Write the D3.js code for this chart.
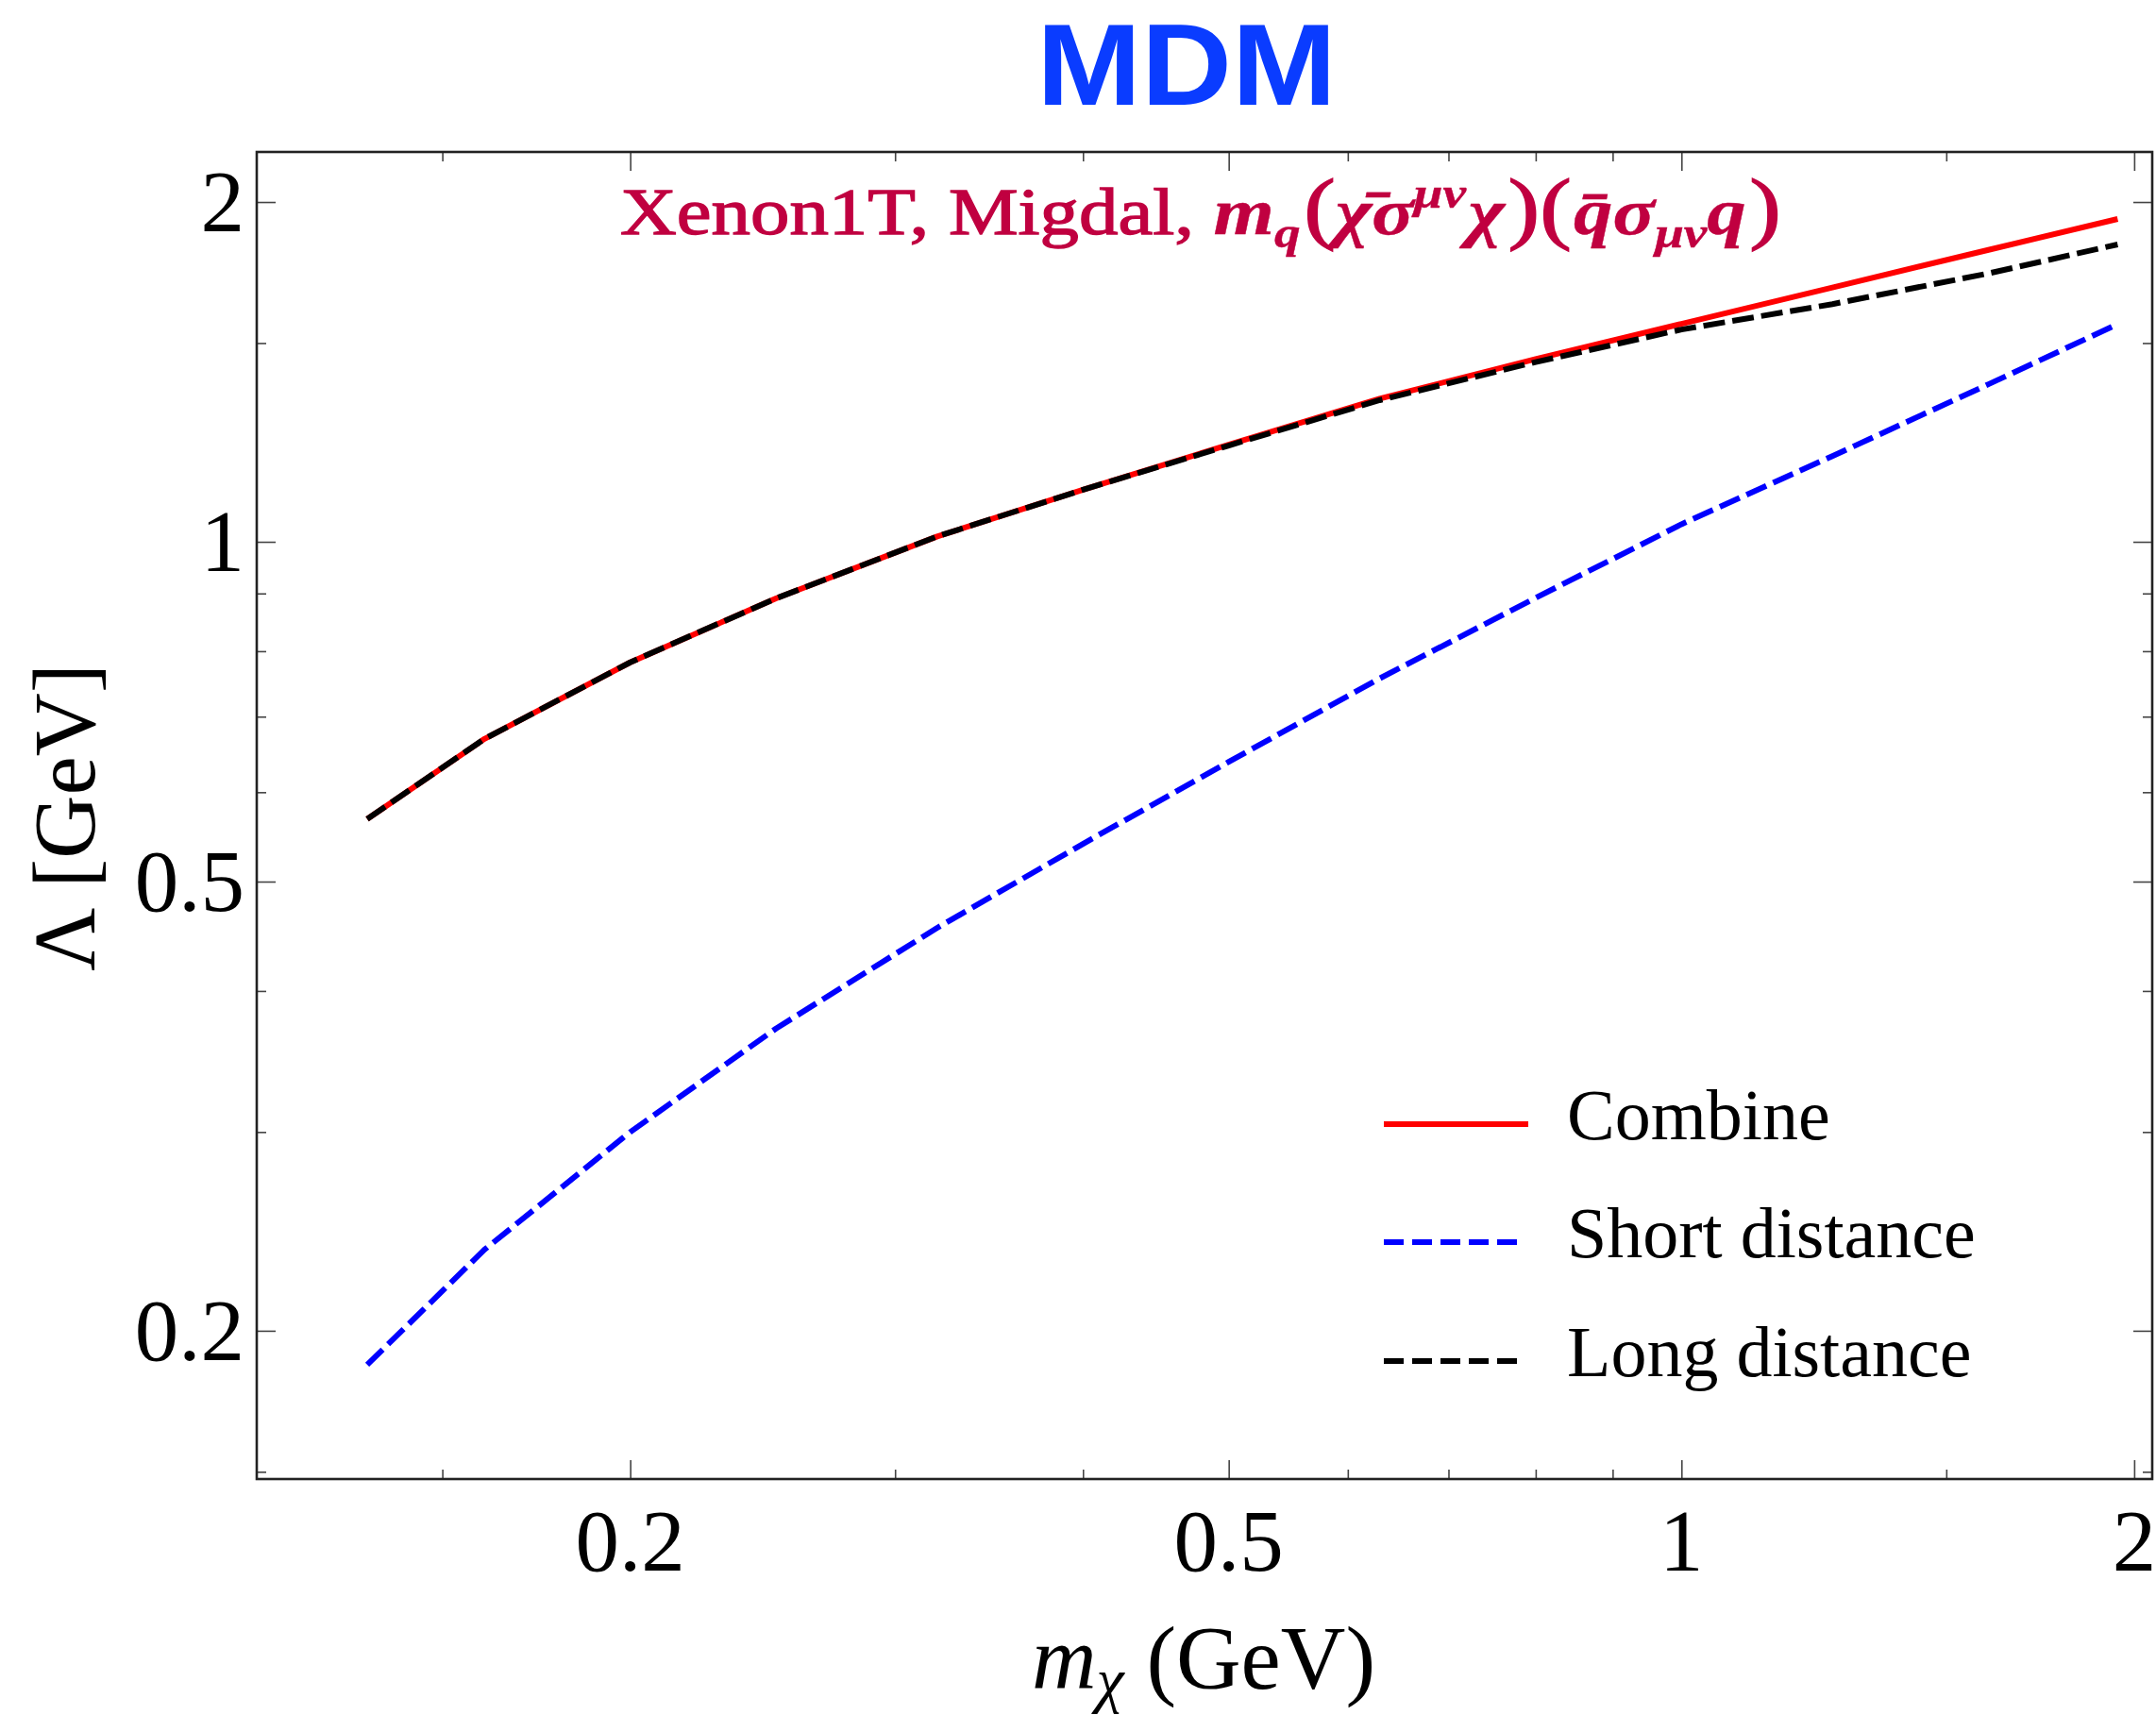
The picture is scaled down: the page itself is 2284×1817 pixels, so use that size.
<!DOCTYPE html>
<html>
<head>
<meta charset="utf-8">
<script src="https://cdn.jsdelivr.net/npm/d3@7"></script>
<style>
  html, body { margin: 0; padding: 0; background: #fff; }
  svg { display: block; }
</style>
</head>
<body>
<svg id="chart" width="2284" height="1817"></svg>
<script>
// Dark-matter mass grid (GeV) and the exclusion reach on the cutoff scale Λ (GeV)
const massGeV       = [0.1337, 0.16, 0.2, 0.25, 0.32, 0.4, 0.5, 0.63, 0.8, 1.0, 1.26, 1.6, 1.95];
const combine       = [0.568, 0.669, 0.782, 0.891, 1.011, 1.112, 1.219, 1.339, 1.452, 1.560, 1.680, 1.814, 1.932];
const shortDistance = [0.1866, 0.236, 0.300, 0.3705, 0.455, 0.540, 0.6383, 0.7568, 0.892, 1.0365, 1.191, 1.379, 1.559];
const longDistance  = [0.568, 0.669, 0.782, 0.891, 1.011, 1.112, 1.217, 1.335, 1.443, 1.542, 1.624, 1.729, 1.834];

// Axis ticks
const xMajorTicks = [0.2, 0.5, 1, 2];
const xMinorTicks = [0.15, 0.3, 0.4, 0.6, 0.7, 0.8, 0.9, 1.5];
const yMajorTicks = [0.2, 0.5, 1, 2];
const yMinorTicks = [0.15, 0.3, 0.4, 0.6, 0.7, 0.8, 0.9, 1.5];
const xTickLabels = ["0.2", "0.5", "1", "2"];
const yTickLabels = ["0.2", "0.5", "1", "2"];

const seriesNames = ["Combine", "Short distance", "Long distance"];

const svg = d3.select("#chart");
const W = 2284, H = 1817;
const plot = { left: 272, right: 2280, top: 161, bottom: 1567 };

const x = d3.scaleLog().domain([0.1129, 2.056]).range([plot.left, plot.right]);
const y = d3.scaleLog().domain([0.1478, 2.215]).range([plot.bottom, plot.top]);

const serif = "'Liberation Serif', 'Times New Roman', serif";

svg.append("rect").attr("width", W).attr("height", H).attr("fill", "#fff");

// Title
svg.append("text")
  .attr("transform", "translate(1257,111) scale(1.09,1)")
  .attr("text-anchor", "middle")
  .attr("font-family", "'Liberation Sans', Arial, sans-serif")
  .attr("font-weight", "bold")
  .attr("font-size", 122)
  .attr("fill", "#0a3cff")
  .text("MDM");

// Frame ticks on all four sides (inward)
const tickColor = "#444";
function addAxis(gen, transform, values, size) {
  const g = svg.append("g").attr("transform", transform)
    .call(gen.tickValues(values).tickSize(size).tickFormat(() => ""));
  g.select(".domain").remove();
  g.selectAll(".tick line").attr("stroke", tickColor).attr("stroke-width", 1.6);
  return g;
}
addAxis(d3.axisBottom(x), `translate(0,${plot.bottom})`, xMajorTicks, -20);
addAxis(d3.axisBottom(x), `translate(0,${plot.bottom})`, xMinorTicks, -10);
addAxis(d3.axisTop(x), `translate(0,${plot.top})`, xMajorTicks, -20);
addAxis(d3.axisTop(x), `translate(0,${plot.top})`, xMinorTicks, -10);
addAxis(d3.axisLeft(y), `translate(${plot.left},0)`, yMajorTicks, -20);
addAxis(d3.axisLeft(y), `translate(${plot.left},0)`, yMinorTicks, -10);
addAxis(d3.axisRight(y), `translate(${plot.right},0)`, yMajorTicks, -20);
addAxis(d3.axisRight(y), `translate(${plot.right},0)`, yMinorTicks, -10);

// Frame
svg.append("rect")
  .attr("x", plot.left).attr("y", plot.top)
  .attr("width", plot.right - plot.left).attr("height", plot.bottom - plot.top)
  .attr("fill", "none").attr("stroke", "#222").attr("stroke-width", 2.6);

// Tick labels
svg.append("g").selectAll("text").data(xMajorTicks).join("text")
  .attr("x", d => x(d)).attr("y", plot.bottom + 97)
  .attr("text-anchor", "middle")
  .attr("font-family", serif).attr("font-size", 93).attr("fill", "#000")
  .text((d, i) => xTickLabels[i]);

svg.append("g").selectAll("text").data(yMajorTicks).join("text")
  .attr("x", plot.left - 13).attr("y", d => y(d) + 31)
  .attr("text-anchor", "end")
  .attr("font-family", serif).attr("font-size", 93).attr("fill", "#000")
  .text((d, i) => yTickLabels[i]);

// Axis titles
const xTitle = svg.append("text")
  .attr("x", 1275).attr("y", 1789)
  .attr("text-anchor", "middle")
  .attr("font-family", serif).attr("font-size", 95).attr("fill", "#000");
xTitle.append("tspan").attr("font-style", "italic").text("m");
xTitle.append("tspan").attr("font-style", "italic").attr("font-size", 66).attr("dy", 13).text("χ");
xTitle.append("tspan").attr("dy", -13).text(" (GeV)");

svg.append("text")
  .attr("transform", "translate(100,866) rotate(-90)")
  .attr("text-anchor", "middle")
  .attr("font-family", serif).attr("font-size", 93).attr("fill", "#000")
  .text("Λ [GeV]");

// Operator annotation
const crimson = "#c00040";
const note = svg.append("text")
  .attr("transform", "translate(1272,248) scale(1.2,1)")
  .attr("text-anchor", "middle")
  .attr("font-family", serif).attr("font-size", 69).attr("fill", crimson)
  .attr("stroke", crimson).attr("stroke-width", 1.3);
const noteParts = [
  { t: "Xenon1T, Migdal, " },
  { t: "m", w: "bold", i: true },
  { t: "q", w: "bold", i: true, s: 46, shift: 14 },
  { t: "(", s: 84, shift: 0, dx: 3 },
  { t: "χ\u0304", w: "bold", i: true },
  { t: "σ", w: "bold", i: true },
  { t: "μν", w: "bold", i: true, s: 46, shift: -28 },
  { t: "χ", w: "bold", i: true, shift: 0, dx: 2 },
  { t: ")(", s: 84, dx: 3 },
  { t: "q\u0304", w: "bold", i: true, dx: 2 },
  { t: "σ", w: "bold", i: true },
  { t: "μν", w: "bold", i: true, s: 46, shift: 14 },
  { t: "q", w: "bold", i: true, shift: 0 },
  { t: ")", s: 84, dx: 3 }
];
let curShift = 0;
noteParts.forEach(p => {
  const ts = note.append("tspan").text(p.t);
  if (p.w) ts.attr("font-weight", p.w).attr("stroke-width", 0.4);
  if (p.i) ts.attr("font-style", "italic");
  if (p.s) ts.attr("font-size", p.s);
  if (p.dx) ts.attr("dx", p.dx);
  if (p.shift !== undefined && p.shift !== curShift) {
    ts.attr("dy", p.shift - curShift);
    curShift = p.shift;
  }
});

// Curves
svg.append("clipPath").attr("id", "plot-clip")
  .append("rect").attr("x", plot.left).attr("y", plot.top)
  .attr("width", plot.right - plot.left).attr("height", plot.bottom - plot.top);

const line = d3.line().x(d => x(d[0])).y(d => y(d[1]));
const styles = [
  { values: shortDistance, color: "#0000ff", dash: "23,8" },
  { values: combine,       color: "#ff0000", dash: null },
  { values: longDistance,  color: "#000000", dash: "23,8" }
];
const curves = svg.append("g").attr("clip-path", "url(#plot-clip)");
styles.forEach(s => {
  curves.append("path")
    .datum(massGeV.map((m, i) => [m, s.values[i]]))
    .attr("d", line)
    .attr("fill", "none")
    .attr("stroke", s.color)
    .attr("stroke-width", 6)
    .attr("stroke-linejoin", "round")
    .attr("stroke-dasharray", s.dash);
});

// Legend
const legendRows = [
  { name: seriesNames[0], color: "#ff0000", dash: null, y: 1191 },
  { name: seriesNames[1], color: "#0000ff", dash: "21,9", y: 1316 },
  { name: seriesNames[2], color: "#000000", dash: "21,9", y: 1442 }
];
const legend = svg.append("g");
legendRows.forEach(r => {
  legend.append("line")
    .attr("x1", 1466).attr("x2", r.dash ? 1610 : 1619)
    .attr("y1", r.y).attr("y2", r.y)
    .attr("stroke", r.color).attr("stroke-width", 6)
    .attr("stroke-dasharray", r.dash);
  legend.append("text")
    .attr("x", 1660).attr("y", r.y + 16)
    .attr("font-family", serif).attr("font-size", 76).attr("fill", "#000")
    .text(r.name);
});
</script>
</body>
</html>
